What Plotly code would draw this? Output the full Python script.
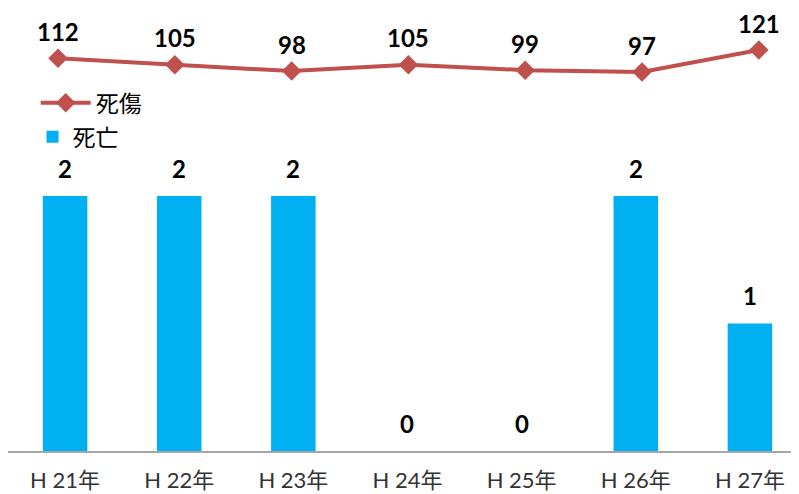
import plotly.graph_objects as go

categories = ["H 21年", "H 22年", "H 23年", "H 24年", "H 25年", "H 26年", "H 27年"]
deaths = [2, 2, 2, 0, 0, 2, 1]          # 死亡
casualties = [112, 105, 98, 105, 99, 97, 121]  # 死傷

BAR_COLOR = "#00B0F0"
LINE_COLOR = "#C0504D"
NUM_FONT = "Lato, 'Liberation Sans', Arial, sans-serif"
TXT_FONT = "Lato, 'Noto Sans CJK JP', sans-serif"

fig = go.Figure()

fig.add_trace(go.Bar(
    x=categories, y=deaths, name="死亡",
    marker=dict(color=BAR_COLOR, line=dict(width=0)),
    width=0.39, xaxis="x", yaxis="y", legend="legend2",
    hoverinfo="skip",
))

fig.add_trace(go.Scatter(
    x=categories, y=casualties, name="死傷",
    mode="lines+markers",
    line=dict(color=LINE_COLOR, width=4),
    marker=dict(symbol="diamond", size=15, color=LINE_COLOR),
    xaxis="x2", yaxis="y2", legend="legend",
    hoverinfo="skip",
))

annotations = []
for c, v in zip(categories, deaths):
    annotations.append(dict(
        x=c, y=v, xref="x", yref="y", text=f"<b>{v}</b>", showarrow=False,
        yshift=28, yanchor="middle",
        font=dict(family=NUM_FONT, size=24, color="#000000"),
    ))
for c, v in zip(categories, casualties):
    annotations.append(dict(
        x=c, y=v, xref="x2", yref="y2", text=f"<b>{v}</b>", showarrow=False,
        yshift=27, yanchor="middle",
        font=dict(family=NUM_FONT, size=24, color="#000000"),
    ))

fig.update_layout(
    width=791, height=486,
    margin=dict(l=0, r=0, t=0, b=43),
    paper_bgcolor="white", plot_bgcolor="white",
    xaxis=dict(
        type="category", categoryorder="array", categoryarray=categories,
        range=[-0.5, 6.43], showgrid=False, zeroline=False,
        showline=True, linecolor="#A6A6A6", linewidth=1.5,
        ticks="", ticklabelstandoff=9,
        tickfont=dict(family=TXT_FONT, size=22, color="#333333"),
    ),
    xaxis2=dict(
        type="category", categoryorder="array", categoryarray=categories,
        overlaying="x", range=[-0.428, 6.344], visible=False,
    ),
    yaxis=dict(range=[0, 3.475], visible=False, showgrid=False, zeroline=False),
    yaxis2=dict(overlaying="y", range=[-316.3, 166.8], visible=False,
                showgrid=False, zeroline=False),
    legend=dict(
        x=0.035, y=0.786, xanchor="left", yanchor="middle",
        font=dict(family=TXT_FONT, size=23, color="#000000"),
        bgcolor="rgba(0,0,0,0)", itemwidth=50,
    ),
    legend2=dict(
        x=0.031, y=0.709, xanchor="left", yanchor="middle",
        font=dict(family=TXT_FONT, size=23, color="#000000"),
        bgcolor="rgba(0,0,0,0)",
    ),
    annotations=annotations,
    showlegend=True,
)

fig.write_html("out.html")
